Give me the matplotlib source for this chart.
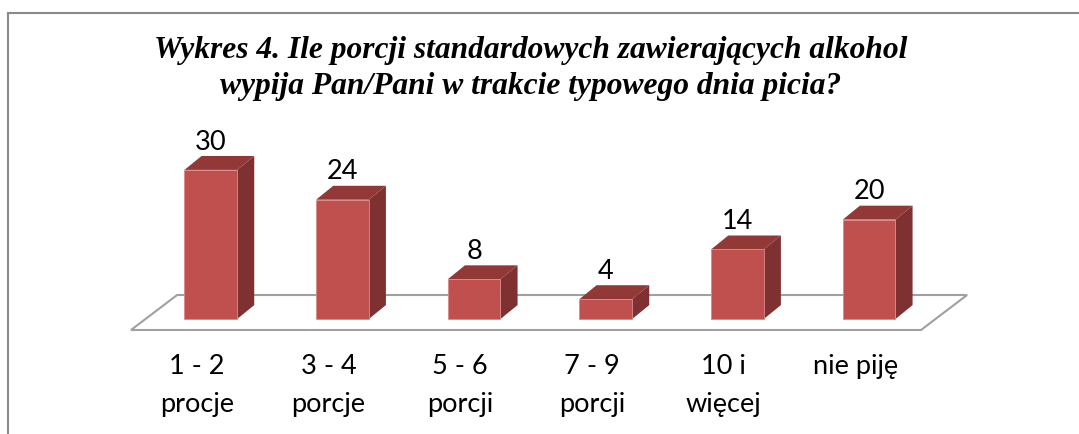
import matplotlib
matplotlib.use("Agg")
import matplotlib.pyplot as plt
from matplotlib.patches import Polygon, Rectangle

# -------- DATA --------
categories = ["1 - 2\nprocje", "3 - 4\nporcje", "5 - 6\nporcji",
              "7 - 9\nporcji", "10 i\nwięcej", "nie piję"]
values = [30, 24, 8, 4, 14, 20]
title = ("Wykres 4. Ile porcji standardowych zawierających alkohol\n"
         "wypija Pan/Pani w trakcie typowego dnia picia?")

# -------- STYLE --------
FRONT = "#c0504d"
SIDE = "#7e3130"
TOP = "#923836"
FLOOR = "#a0a0a0"

bar_w = 0.40      # front face width (category units)
bar_shift = 0.106  # bar sits a little back from the floor front edge
dx, dy = 0.13, 2.8  # bar depth offset
floor_front, floor_back = -2.21, 4.83
floor_dx = 0.35

fig = plt.figure(figsize=(10.79, 4.34), dpi=100)

# outer frame (runs off the right and bottom edges)
fig.patches.append(Rectangle((8 / 1079, -0.2), 1.2, 1 - 13 / 434 + 0.2,
                             transform=fig.transFigure, fill=False,
                             edgecolor="#8a8a8a", lw=1.5))

ax = fig.add_axes([131 / 1079, 104 / 434, 790 / 1079, 180 / 434])
ax.set_xlim(-0.5, len(values) - 0.5)
ax.set_ylim(floor_front, 34.0)
for s in ax.spines.values():
    s.set_visible(False)
ax.set_yticks([])

# floor
n = len(values)
floor = Polygon([(-0.5, floor_front), (n - 0.5, floor_front),
                 (n - 0.5 + floor_dx, floor_back), (-0.5 + floor_dx, floor_back)],
                closed=True, facecolor="white", edgecolor=FLOOR, lw=1.5,
                zorder=1, clip_on=False)
ax.add_patch(floor)

xs = [i + bar_shift for i in range(n)]
ax.bar(xs, values, width=bar_w, color=FRONT, edgecolor="#d98a88",
       linewidth=0.6, zorder=3)

for x, v in zip(xs, values):
    r = x + bar_w / 2
    l = x - bar_w / 2
    side = Polygon([(r, 0), (r + dx, dy), (r + dx, v + dy), (r, v)],
                   closed=True, facecolor=SIDE, edgecolor="none", zorder=2,
                   clip_on=False)
    top = Polygon([(l, v), (l + dx, v + dy), (r + dx, v + dy), (r, v)],
                  closed=True, facecolor=TOP, edgecolor="none", zorder=2,
                  clip_on=False)
    ax.add_patch(side)
    ax.add_patch(top)
    ax.annotate(str(v), (x, v), xytext=(0, 20), textcoords="offset points",
                ha="center", va="center", fontsize=19.5, family="Lato",
                annotation_clip=False)

ax.set_xticks(range(n))
ax.set_xticklabels(categories, fontsize=19.5, family="Lato")
ax.tick_params(axis="x", length=0, pad=17)
for lbl in ax.get_xticklabels():
    lbl.set_linespacing(1.65)

fig.text(531 / 1079, 1 - 36 / 434, title, ha="center", va="top",
         fontsize=22.7, family="Liberation Serif", fontweight="bold",
         fontstyle="italic", linespacing=1.3)

fig.savefig("out.png", dpi=100)
